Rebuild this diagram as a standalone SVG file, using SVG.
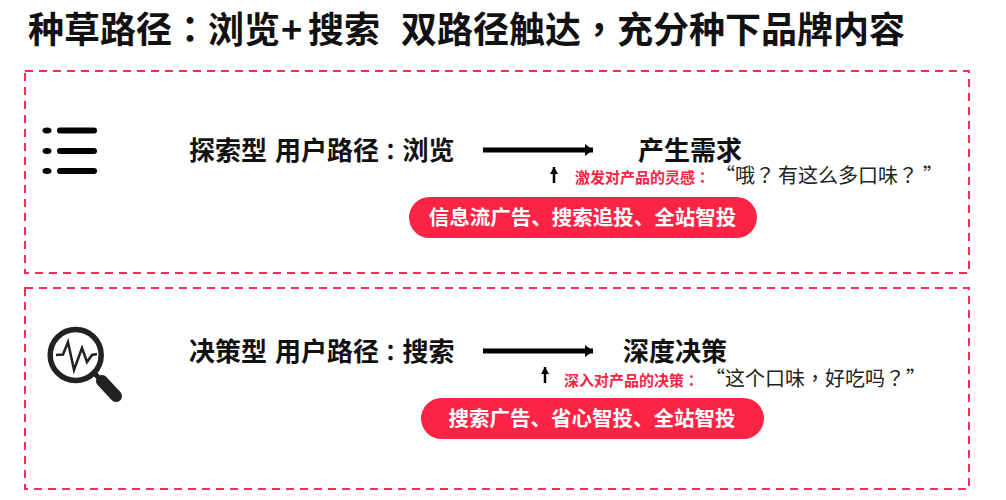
<svg xmlns="http://www.w3.org/2000/svg" width="1006" height="500" viewBox="0 0 1006 500">
<defs>
<style>
text{font-family:"Noto Sans CJK SC","Liberation Sans",sans-serif;}
.p{font-family:"Noto Sans CJK TC","Liberation Sans",sans-serif;}
.n{font-size:23px;}
.b{font-weight:700;fill:#111;font-size:26px;}
.box{fill:none;stroke:#fb2c55;stroke-width:2;stroke-dasharray:8 6;}
.pill{fill:#fb2445;}
.pt{font-weight:700;fill:#fff;font-size:20.500px;text-anchor:middle;}
.r{font-weight:700;fill:#fb2445;font-size:15px;}
.q{fill:#222;font-size:20px;}
.c{stroke:#000;fill:none;}
</style>
<marker id="ah" markerUnits="userSpaceOnUse" markerWidth="9" markerHeight="13" refX="8" refY="6.500" orient="auto"><path d="M0 0.500L8 6.500L0 12.500z" fill="#000"/></marker>
<marker id="as" markerUnits="userSpaceOnUse" markerWidth="8" markerHeight="9" refX="7" refY="4.500" orient="auto"><path d="M0 0.500L7 4.500L0 8.500z" fill="#000"/></marker>
</defs>
<rect width="1006" height="500" fill="#fff"/>
<text id="title" x="28" y="43" font-size="36" font-weight="700" fill="#111">种草路径<tspan class="p">：</tspan>浏览<tspan x="281">+</tspan><tspan x="308">搜索</tspan><tspan x="401">双路径触达<tspan class="p">，</tspan>充分种下品牌内容</tspan></text>
<g id="panel-top"><rect class="box" x="25" y="71" width="944" height="202"/></g>
<g id="panel-bottom"><rect class="box" x="25" y="288" width="944" height="201"/></g>
<g id="icon-list">
<g fill="#000"><ellipse cx="47" cy="130.500" rx="4.500" ry="3"/><ellipse cx="47" cy="151" rx="4.500" ry="3"/><ellipse cx="47" cy="171" rx="4.500" ry="3"/>
<rect x="57" y="127.500" width="40" height="6" rx="3"/><rect x="57" y="148" width="40" height="6" rx="3"/><rect x="57" y="168" width="40" height="6" rx="3"/></g>
</g>
<g id="icon-search">
<circle cx="75.700" cy="355" r="25.500" fill="none" stroke="#222" stroke-width="5.500"/>
<path d="M56 355L63 354.500L68 342L74 370L82 348L87 362L92 355L97 354" fill="none" stroke="#222" stroke-width="2.500"/>
<path d="M94 373L102 381" stroke="#222" stroke-width="5"/>
<path d="M102 381L116 396" stroke="#222" stroke-width="12" stroke-linecap="round"/>
</g>
<g id="connectors">
<path class="c" d="M483 150H593" stroke-width="5" marker-end="url(#ah)"/>
<path class="c" d="M483 351H593" stroke-width="5" marker-end="url(#ah)"/>
<path class="c" d="M554 183V167" stroke-width="2.500" marker-end="url(#as)"/>
<path class="c" d="M545 383V367" stroke-width="2.500" marker-end="url(#as)"/>
</g>
<g id="explore-path"><text class="b" x="189" y="160">探索型<tspan x="275">用户路径<tspan class="p n">：</tspan></tspan><tspan x="402.500">浏览</tspan></text></g>
<g id="explore-result"><text class="b" x="638" y="160">产生需求</text></g>
<g id="explore-note"><text class="r" x="575" y="183">激发对产品的灵感<tspan class="p">：</tspan></text><text class="q" x="715" y="183">“哦<tspan class="p">？</tspan><tspan x="778">有这么多口味<tspan class="p">？</tspan></tspan><tspan x="923">”</tspan></text></g>
<g id="explore-pill"><rect class="pill" x="409" y="197" width="348" height="41" rx="20.500"/><text class="pt" x="582.500" y="225">信息流广告、搜索追投、全站智投</text></g>
<g id="decide-path"><text class="b" x="189" y="361">决策型<tspan x="275">用户路径<tspan class="p n">：</tspan></tspan><tspan x="402.500">搜索</tspan></text></g>
<g id="decide-result"><text class="b" x="623" y="361">深度决策</text></g>
<g id="decide-note"><text class="r" x="564" y="386">深入对产品的决策<tspan class="p">：</tspan></text><text class="q" x="705" y="386">“这个口味<tspan class="p">，</tspan>好吃吗<tspan class="p">？</tspan><tspan x="906">”</tspan></text></g>
<g id="decide-pill"><rect class="pill" x="421" y="398" width="343" height="41" rx="20.500"/><text class="pt" x="592" y="426">搜索广告、省心智投、全站智投</text></g>
</svg>
